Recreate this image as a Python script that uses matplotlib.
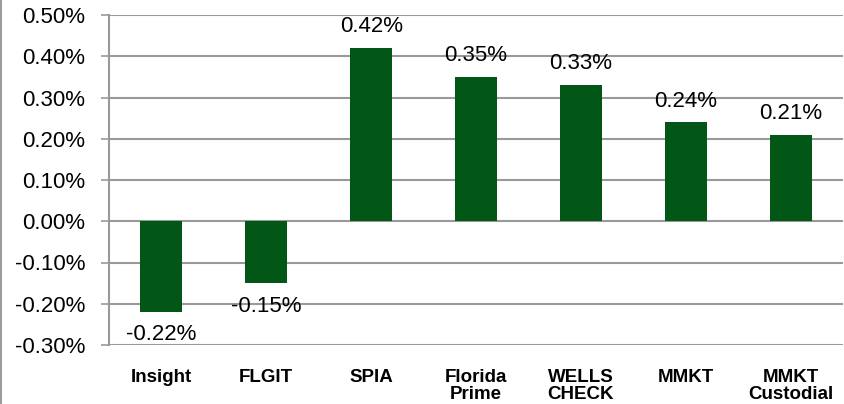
import matplotlib.pyplot as plt
import numpy as np

# Returns by fund
categories = ['Insight', 'FLGIT', 'SPIA', 'Florida\nPrime', 'WELLS\nCHECK', 'MMKT', 'MMKT\nCustodial']
values = [-0.22, -0.15, 0.42, 0.35, 0.33, 0.24, 0.21]
yticks = [-0.30, -0.20, -0.10, 0.00, 0.10, 0.20, 0.30, 0.40, 0.50]

bar_color = '#035716'
grid_color = '#999999'

plt.rcParams['font.family'] = ['Liberation Sans', 'DejaVu Sans']

fig = plt.figure(figsize=(8.45, 4.04), dpi=100)
ax = fig.add_axes([109 / 845, 59 / 404, 734 / 845, 330 / 404])

x = np.arange(len(categories))
ax.bar(x, values, width=0.4, color=bar_color, zorder=3)

# value labels
for xi, v in zip(x, values):
    if v >= 0:
        ax.text(xi, v + 0.026, f'{v:.2f}%', ha='center', va='bottom', fontsize=16)
    else:
        ax.text(xi, v - 0.03, f'{v:.2f}%', ha='center', va='top', fontsize=16)

ax.set_xlim(-0.5, len(categories) - 0.5)
ax.set_ylim(-0.30, 0.50)
ax.set_yticks(yticks)
ax.set_yticklabels([f'{t:.2f}%' for t in yticks], fontsize=16)
ax.yaxis.grid(True, color=grid_color, linewidth=1.5, zorder=0)

ax.set_xticks(x)
ax.set_xticklabels(categories, fontsize=13.5, fontweight='bold', linespacing=1.0)
ax.tick_params(axis='x', length=0, pad=17)
ax.tick_params(axis='y', length=6, width=1.2, color=grid_color, pad=11)

for side in ['top', 'right', 'bottom']:
    ax.spines[side].set_visible(False)
ax.spines['left'].set_color(grid_color)
ax.spines['left'].set_linewidth(1.5)

# outer chart border on the left edge
fig.add_artist(plt.Line2D([1.5 / 845, 1.5 / 845], [0, 1], color='#888888', linewidth=1.2))

fig.savefig('out.png', dpi=100)
